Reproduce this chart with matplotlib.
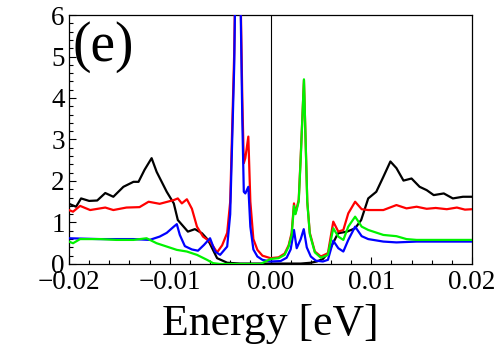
import matplotlib
matplotlib.use("Agg")
import matplotlib.pyplot as plt
from matplotlib.ticker import MultipleLocator, FuncFormatter

# ---- data ----
e_black = [-0.0200, -0.0193, -0.0188, -0.0180, -0.0172, -0.0164, -0.0156, -0.0146, -0.0136,
           -0.0131, -0.0125, -0.0118, -0.0113, -0.0103, -0.0096, -0.0092, -0.0082, -0.0075,
           -0.0068, -0.0062, -0.0053, -0.0043, -0.0030, 0.0000, 0.0030, 0.0040, 0.0046,
           0.0052, 0.0057, 0.0062, 0.0067, 0.0076, 0.0084, 0.0090, 0.0097, 0.0105, 0.0112,
           0.0119, 0.0125, 0.0132, 0.0140, 0.0148, 0.0155, 0.0162, 0.0172, 0.0181, 0.0191, 0.0200]
v_black = [1.45, 1.38, 1.58, 1.52, 1.53, 1.71, 1.62, 1.86, 1.98,
           1.98, 2.27, 2.55, 2.22, 1.74, 1.46, 1.06, 0.78, 0.84,
           0.74, 0.58, 0.14, 0.03, 0.01, 0.01, 0.01, 0.03, 0.06,
           0.12, 0.26, 0.50, 0.74, 0.78, 0.86, 1.06, 1.58, 1.74, 2.10,
           2.47, 2.31, 2.01, 2.06, 1.86, 1.78, 1.66, 1.70, 1.58, 1.62, 1.62]

e_red = [-0.0200, -0.0196, -0.0189, -0.0179, -0.0164, -0.0156, -0.0143, -0.0130, -0.0121,
         -0.0110, -0.0096, -0.0092, -0.0088, -0.0083, -0.0078, -0.0073, -0.0067, -0.0060,
         -0.0053, -0.0048, -0.0043, -0.0040, -0.0036, -0.0034, -0.0032, -0.0030, -0.0028,
         -0.00265, -0.0025, -0.0022, -0.0020, -0.0017, -0.0013, -0.0008, 0.0000, 0.0008,
         0.0014, 0.0018, 0.0021, 0.00233, 0.00248, 0.0028, 0.0030, 0.00332, 0.00365,
         0.0039, 0.0044, 0.0050, 0.0057, 0.00623, 0.00673, 0.00723, 0.00772, 0.0084,
         0.00905, 0.0097, 0.0112, 0.0125, 0.0135, 0.0145, 0.0155, 0.0164, 0.0175, 0.0185,
         0.0193, 0.0200]
v_red = [1.30, 1.26, 1.40, 1.30, 1.36, 1.30, 1.36, 1.37, 1.50,
         1.45, 1.54, 1.58, 1.46, 1.56, 1.33, 0.90, 0.66, 0.54,
         0.28, 0.45, 0.75, 1.50, 5.10, 8.50, 10.0, 7.00, 4.00,
         2.43, 2.55, 3.07, 1.50, 0.60, 0.34, 0.20, 0.14, 0.16,
         0.25, 0.45, 0.75, 1.46, 1.22, 1.55, 2.60, 4.43, 1.50,
         0.75, 0.30, 0.18, 0.26, 1.02, 0.78, 0.82, 1.22, 1.50,
         1.32, 1.30, 1.30, 1.42, 1.34, 1.38, 1.33, 1.35, 1.32, 1.36,
         1.31, 1.32]

e_blue = [-0.0200, -0.0170, -0.0136, -0.0120, -0.0110, -0.0103, -0.0096, -0.0093, -0.0090,
          -0.0085, -0.0078, -0.0072, -0.0066, -0.0060, -0.0055, -0.0050, -0.0043, -0.0040,
          -0.0036, -0.0034, -0.0032, -0.0030, -0.0028, -0.00265, -0.0025, -0.0022, -0.0020,
          -0.0017, -0.0013, -0.0008, 0.0000, 0.0010, 0.0016, 0.0020, 0.00233, 0.0026,
          0.0030, 0.0033, 0.0036, 0.0040, 0.0045, 0.0052, 0.0057, 0.00623, 0.00673,
          0.00723, 0.00772, 0.0084, 0.00905, 0.0097, 0.0112, 0.0125, 0.0145, 0.0170, 0.0200]
v_blue = [0.62, 0.60, 0.60, 0.58, 0.66, 0.75, 0.90, 0.96, 0.70,
          0.43, 0.35, 0.32, 0.46, 0.62, 0.30, 0.22, 0.42, 1.20,
          4.80, 8.30, 9.80, 6.80, 3.50, 1.74, 1.70, 1.86, 0.90,
          0.35, 0.18, 0.10, 0.06, 0.07, 0.15, 0.35, 0.82, 0.38,
          0.60, 0.84, 0.40, 0.18, 0.08, 0.06, 0.10, 0.56, 0.38,
          0.30, 0.58, 0.90, 0.67, 0.60, 0.54, 0.52, 0.54, 0.54, 0.54]

e_green = [-0.0200, -0.0196, -0.0189, -0.0169, -0.0153, -0.0136, -0.0123, -0.0113, -0.0103,
           -0.0093, -0.0083, -0.0073, -0.0063, -0.0057, -0.0050, -0.0010, 0.0000, 0.0008,
           0.0014, 0.0018, 0.0021, 0.00233, 0.00248, 0.0028, 0.0030, 0.00332, 0.00365,
           0.0039, 0.0044, 0.0050, 0.0057, 0.00623, 0.00673, 0.00723, 0.00772, 0.0084,
           0.00905, 0.0097, 0.0112, 0.0125, 0.0135, 0.0145, 0.0164, 0.0200]
v_green = [0.54, 0.50, 0.60, 0.60, 0.58, 0.58, 0.62, 0.50, 0.42,
           0.34, 0.30, 0.22, 0.10, 0.02, 0.00, 0.00, 0.12, 0.14,
           0.22, 0.42, 0.70, 1.40, 1.20, 1.50, 2.55, 4.45, 1.50,
           0.72, 0.28, 0.15, 0.22, 0.86, 0.66, 0.58, 0.90, 1.14,
           0.90, 0.82, 0.70, 0.67, 0.60, 0.58, 0.58, 0.58]

x_ticks = [-0.02, -0.01, 0.00, 0.01, 0.02]
y_ticks = [0, 1, 2, 3, 4, 5, 6]

plt.rcParams['font.family'] = ['Liberation Serif', 'DejaVu Serif']
plt.rcParams['mathtext.fontset'] = 'stix'

fig = plt.figure(figsize=(5.0, 3.49), dpi=100)
ax = fig.add_axes([0.138, 0.2436, 0.806, 0.7134])

ax.axvline(0.0, color='black', lw=0.8, zorder=1)
lw = 1.6
ax.plot(e_black, v_black, color='black', lw=lw, zorder=2)
ax.plot(e_red, v_red, color=(1, 0, 0), lw=lw, zorder=3)
ax.plot(e_blue, v_blue, color=(0, 0, 1), lw=lw, zorder=4)
ax.plot(e_green, v_green, color=(0, 0.95, 0), lw=lw, zorder=5)

ax.set_xlim(-0.02, 0.02)
ax.set_ylim(0, 6)
ax.set_xticks(x_ticks)
ax.set_yticks(y_ticks)
ax.xaxis.set_minor_locator(MultipleLocator(0.002))
ax.yaxis.set_minor_locator(MultipleLocator(0.2))
ax.xaxis.set_major_formatter(FuncFormatter(lambda v, p: ("\u2212" if v < -1e-9 else "") + f"{abs(v):.2f}"))
ax.tick_params(which='both', direction='in', top=False, right=False, labelsize=19.5, width=0.8)
ax.tick_params(axis='x', which='major', length=5, pad=4)
ax.tick_params(axis='y', which='major', length=5, pad=3)
ax.tick_params(which='minor', length=3)
for s in ax.spines.values():
    s.set_linewidth(0.9)

ax.set_xlabel('Energy [eV]', fontsize=31.5, labelpad=7)
ax.text(0.008, 0.975, '(e)', transform=ax.transAxes, fontsize=40, va='top', ha='left')

fig.savefig('out.png', dpi=100)
